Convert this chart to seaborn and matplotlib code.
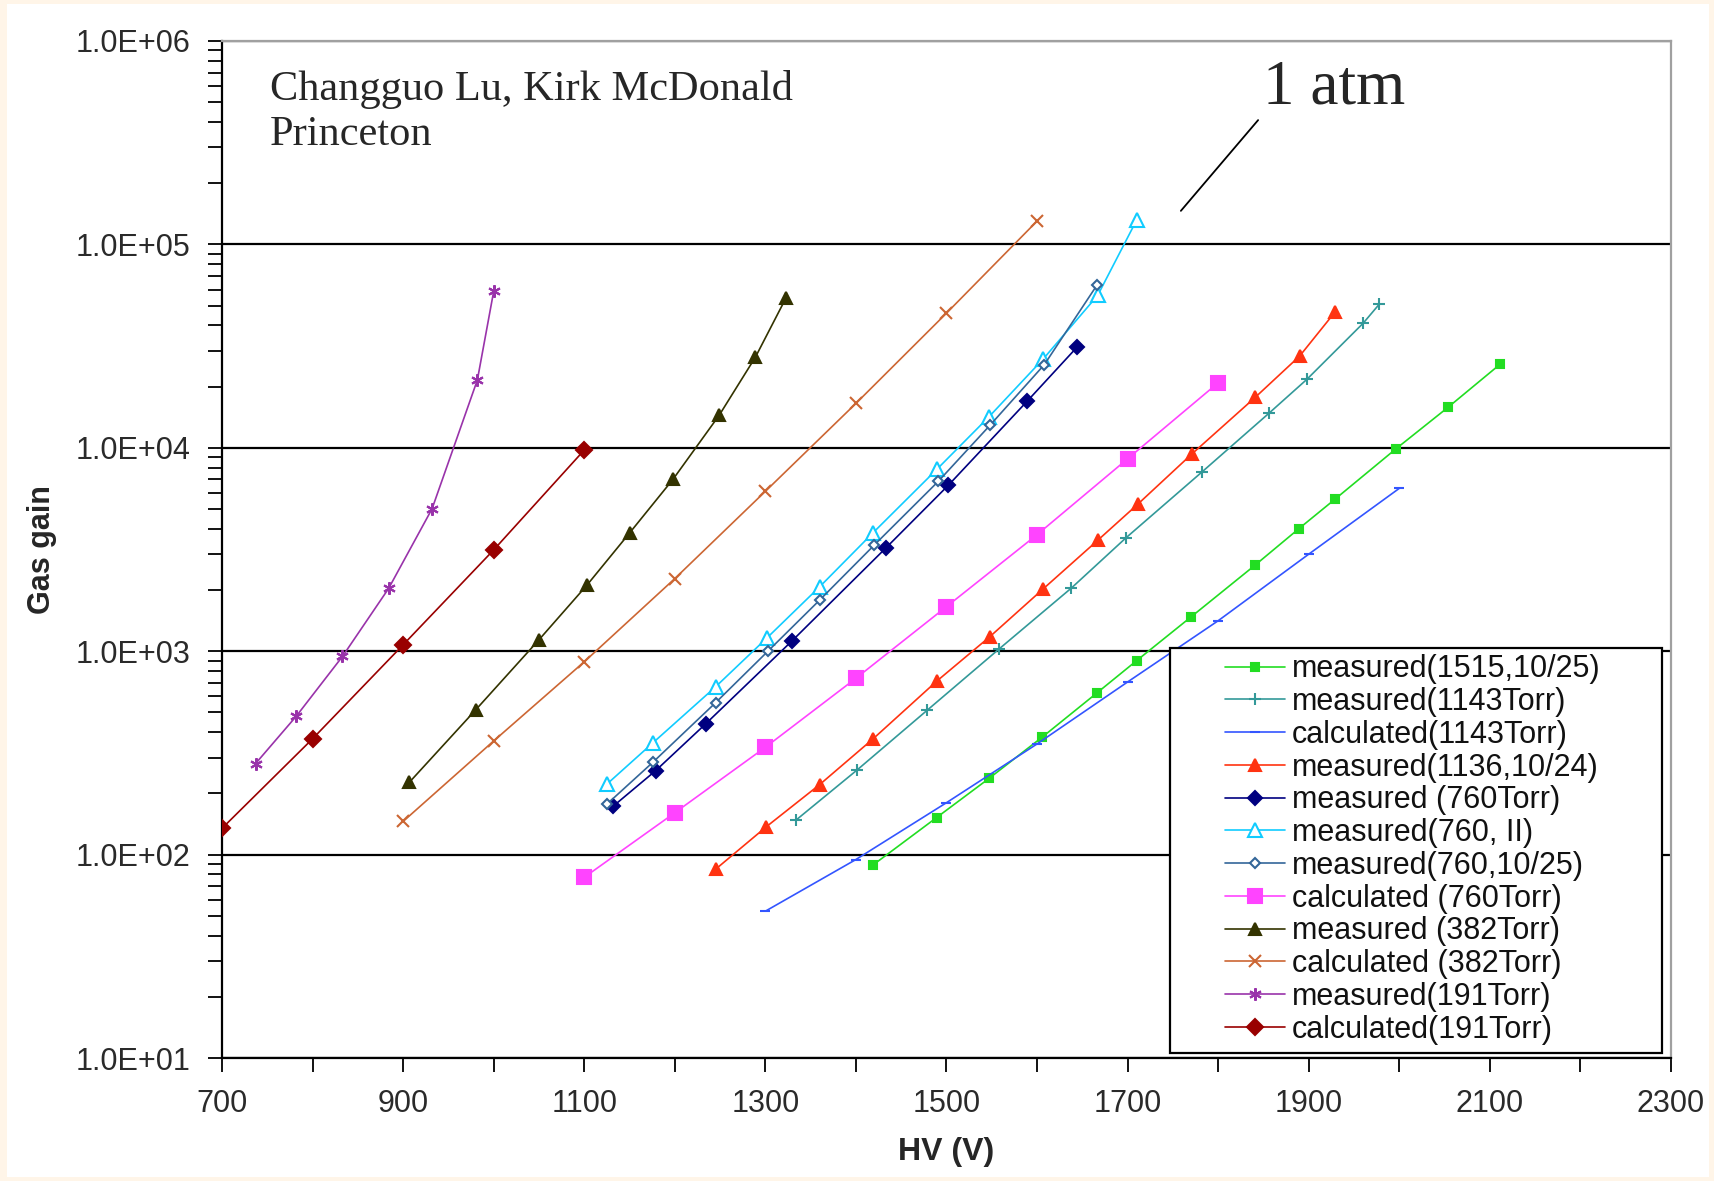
#Imports
import pandas as pd
import matplotlib
matplotlib.use("Agg")
import matplotlib.pyplot as plt
import seaborn as sns
from matplotlib.patches import Rectangle
from matplotlib.ticker import FuncFormatter, LogLocator, MultipleLocator, NullFormatter

#Data (HV in volts, gas gain)
hv_m1515 = [1419, 1489, 1547, 1606, 1666, 1710, 1770, 1841, 1889, 1929, 1996, 2054, 2111]
gain_m1515 = [89, 152, 237, 379, 623, 899, 1474, 2655, 4000, 5590, 9860, 15840, 25690]

hv_m1143 = [1334, 1401, 1479, 1558, 1638, 1698, 1782, 1856, 1898, 1960, 1978]
gain_m1143 = [148, 260, 514, 1025, 2046, 3603, 7600, 14780, 21720, 40930, 50900]

hv_c1143 = [1300, 1400, 1500, 1600, 1700, 1800, 1900, 2000]
gain_c1143 = [52.7, 94.6, 180, 350, 706, 1412, 3000, 6320]

hv_m1136 = [1245, 1301, 1360, 1419, 1489, 1548, 1607, 1667, 1711, 1771, 1841, 1890, 1929]
gain_m1136 = [84.7, 137, 221, 371, 711, 1180, 2029, 3510, 5270, 9330, 17720, 28270, 46500]

hv_m760 = [1132, 1179, 1234, 1329, 1433, 1502, 1589, 1644]
gain_m760 = [173, 259, 439, 1119, 3216, 6540, 16930, 31200]

hv_m760_2 = [1125, 1176, 1245, 1302, 1360, 1419, 1490, 1547, 1607, 1667, 1710]
gain_m760_2 = [222, 355, 668, 1165, 2075, 3826, 7890, 14220, 27400, 56200, 131800]

hv_m760_1025 = [1125, 1176, 1245, 1303, 1360, 1420, 1491, 1548, 1608, 1666]
gain_m760_1025 = [177, 285, 558, 1002, 1785, 3317, 6845, 12900, 25630, 62900]

hv_c760 = [1100, 1200, 1300, 1400, 1500, 1600, 1700, 1800]
gain_c760 = [77.3, 160.6, 337, 736, 1656, 3740, 8830, 20880]

hv_m382 = [907, 980, 1050, 1103, 1150, 1198, 1249, 1289, 1323]
gain_m382 = [227, 514, 1138, 2113, 3810, 7000, 14450, 27900, 54800]

hv_c382 = [900, 1000, 1100, 1200, 1300, 1400, 1500, 1600]
gain_c382 = [145.6, 362, 887, 2275, 6110, 16530, 45920, 130200]

hv_m191 = [737, 782, 833, 884, 932, 982, 1000]
gain_m191 = [280, 479, 942, 2035, 5020, 21570, 58800]

hv_c191 = [700, 800, 900, 1000, 1100]
gain_c191 = [134.6, 371, 1075, 3148, 9750]

labels = ['measured(1515,10/25)', 'measured(1143Torr)', 'calculated(1143Torr)',
          'measured(1136,10/24)', 'measured (760Torr)', 'measured(760, II)',
          'measured(760,10/25)', 'calculated (760Torr)', 'measured (382Torr)',
          'calculated (382Torr)', 'measured(191Torr)', 'calculated(191Torr)']
hv_all = [hv_m1515, hv_m1143, hv_c1143, hv_m1136, hv_m760, hv_m760_2,
          hv_m760_1025, hv_c760, hv_m382, hv_c382, hv_m191, hv_c191]
gain_all = [gain_m1515, gain_m1143, gain_c1143, gain_m1136, gain_m760, gain_m760_2,
            gain_m760_1025, gain_c760, gain_m382, gain_c382, gain_m191, gain_c191]

#Style for each series: colour, marker, marker size, marker face
styles = [('#22dd22', 's', 6, None),
          ('#339999', '+', 9, None),
          ('#3355ff', '_', 7, None),
          ('#ff3311', '^', 8, None),
          ('#000080', 'D', 7.5, None),
          ('#11ccff', '^', 10, 'white'),
          ('#336699', 'D', 5, 'white'),
          ('#ff44ff', 's', 9.5, None),
          ('#333300', '^', 8, None),
          ('#cc6633', 'x', 8, None),
          ('#9933aa', (6, 2, 0), 9, None),
          ('#990000', 'D', 8, None)]

#Fonts and theme
sns.set_style('ticks')
plt.rcParams['font.family'] = ['Liberation Sans', 'DejaVu Sans']

fig = plt.figure(figsize=(17.15, 11.81), dpi=100, facecolor='#fff5e8')
fig.add_artist(Rectangle((7 / 1715, 4 / 1181), 1 - 13 / 1715, 1 - 8 / 1181,
                         transform=fig.transFigure, facecolor='white',
                         edgecolor='none', zorder=-10))
ax = fig.add_axes([222 / 1715, 1 - 1058 / 1181, 1449 / 1715, 1017 / 1181])
ax.set_facecolor('white')

#Draw every series
for lab, xs, ys, (col, mk, ms, mfc) in zip(labels, hv_all, gain_all, styles):
    df = pd.DataFrame({'HV': xs, 'Gain': ys})
    sns.lineplot(data=df, x='HV', y='Gain', ax=ax, color=col, marker=mk,
                 markersize=ms, markeredgecolor=col,
                 markerfacecolor=(mfc if mfc else col),
                 markeredgewidth=1.5, linewidth=1.2, errorbar=None,
                 label=lab, zorder=3)

ax.set_yscale('log')
ax.set_xlim(700, 2300)
ax.set_ylim(10, 1e6)

#Ticks
ax.xaxis.set_major_locator(MultipleLocator(200, offset=100))
ax.xaxis.set_minor_locator(MultipleLocator(100))
ax.yaxis.set_major_locator(LogLocator(base=10, numticks=10))
ax.yaxis.set_minor_locator(LogLocator(base=10, subs=range(2, 10), numticks=50))
ax.yaxis.set_minor_formatter(NullFormatter())
ax.yaxis.set_major_formatter(FuncFormatter(lambda v, p: f'{v:.1E}'))
ax.tick_params(axis='both', which='both', direction='out', length=10, width=1.3,
               color='black', labelsize=22, labelcolor='#2a2a2a')
ax.tick_params(axis='y', which='major', pad=13)
ax.tick_params(axis='x', which='major', pad=12)

#Grid and frame
ax.yaxis.grid(True, which='major', color='black', linewidth=1.6)
ax.xaxis.grid(False)
for side in ['left', 'bottom']:
    ax.spines[side].set_color('black')
    ax.spines[side].set_linewidth(1.6)
for side in ['top', 'right']:
    ax.spines[side].set_color('#a0a0a0')
    ax.spines[side].set_linewidth(1.6)

ax.set_xlabel('HV (V)', fontsize=23, fontweight='bold', labelpad=13)
ax.set_ylabel('Gas gain', fontsize=22, fontweight='bold', labelpad=13)

#Text annotations
ax.text(0.0331, (1058 - 100) / 1017, 'Changguo Lu, Kirk McDonald', transform=ax.transAxes,
        fontsize=30.5, family=['Liberation Serif'], va='baseline', ha='left')
ax.text(0.0331, (1058 - 145) / 1017, 'Princeton', transform=ax.transAxes,
        fontsize=30.5, family=['Liberation Serif'], va='baseline', ha='left')
ax.text(0.7184, (1058 - 104) / 1017, '1 atm', transform=ax.transAxes,
        fontsize=45.5, family=['Liberation Serif'], va='baseline', ha='left')
ax.annotate('', xy=(0.6605, 0.8309), xytext=(0.7163, 0.9243),
            xycoords='axes fraction', textcoords='axes fraction',
            arrowprops=dict(arrowstyle='-', color='black', lw=1.3))

#Legend with its own box
ax.add_patch(Rectangle((0.6542, 0.0049), 0.3395, 0.398, transform=ax.transAxes,
                       facecolor='white', edgecolor='black', linewidth=1.6, zorder=5))
leg = ax.legend(loc='upper left', bbox_to_anchor=(0.6922, 0.397), frameon=False,
                fontsize=22, labelspacing=0.09, handlelength=1.95, handletextpad=0.25,
                borderpad=0, borderaxespad=0)
leg.set_zorder(6)
for t in leg.get_texts():
    t.set_color('#111111')

fig.savefig('out.png', dpi=100, facecolor=fig.get_facecolor())
